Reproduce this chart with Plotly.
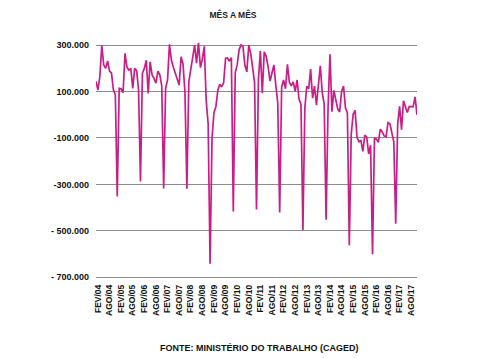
import plotly.graph_objects as go

# Monthly net job creation (thousands), Jan/2004 - Nov/2017
y2004 = [144, 107, 165, 299, 215, 200, 232, 188, 180, 108, 85, -352]
y2005 = [114, 112, 95, 265, 206, 192, 200, 114, 200, 190, 110, -287]
y2006 = [179, 200, 235, 92, 228, 172, 157, 136, 188, 172, 125, -318]
y2007 = [114, 150, 304, 235, 205, 179, 150, 128, 250, 218, 98, -319]
y2008 = [142, 195, 265, 300, 222, 310, 203, 240, 295, 61, -40, -642]
y2009 = [-101, 9, 35, 106, 132, 120, 138, 244, 245, 231, 246, -417]
y2010 = [181, 215, 280, 301, 295, 213, 185, 300, 265, 206, 140, -408]
y2011 = [152, 275, 93, 271, 252, 208, 145, 180, 215, 126, 50, -421]
y2012 = [119, 150, 112, 217, 140, 125, 142, 101, 150, 67, 46, -497]
y2013 = [29, 123, 112, 197, 72, 124, 41, 128, 211, 95, 47, -452]
y2014 = [30, 261, 13, 105, 59, 25, 12, 101, 124, 30, 8, -562]
y2015 = [-82, 2, 19, -98, -116, -111, -158, -87, -96, -169, -131, -601]
y2016 = [-100, -105, -119, -63, -73, -91, -95, -34, -39, -75, -117, -469]
y2017 = [-41, 36, -64, 60, 34, 10, 36, 35, 34, 77, 0]

years = [y2004, y2005, y2006, y2007, y2008, y2009, y2010, y2011,
         y2012, y2013, y2014, y2015, y2016, y2017]

x_tick_labels = ["FEV/04", "AGO/04", "FEV/05", "AGO/05", "FEV/06", "AGO/06",
                 "FEV/07", "AGO/07", "FEV/08", "AGO/08", "FEV/09", "AGO/09",
                 "FEV/10", "AGO/10", "FEV/11", "AGO/11", "FEV/12", "AGO/12",
                 "FEV/13", "AGO/13", "FEV/14", "AGO/14", "FEV/15", "AGO/15",
                 "FEV/16", "AGO/16", "FEV/17", "AGO/17"]
y_tick_values = [300000, 100000, -100000, -300000, -500000, -700000]
y_tick_labels = ["300.000", "100.000", "-100.000", "-300.000", "- 500.000", "- 700.000"]

values = [v * 1000 for yr in years for v in yr]
x = list(range(len(values)))
x_tick_pos = [1 + 6 * k for k in range(len(x_tick_labels))]

FONT = "Liberation Sans, Arial, sans-serif"

fig = go.Figure()
fig.add_trace(go.Scatter(x=x, y=values, mode="lines",
                         line=dict(color="#c81e86", width=1.7),
                         hoverinfo="skip", showlegend=False))

# page has an 8px body margin, so the figure is drawn at (8, 8)
fig.update_layout(
    width=472, height=350,
    margin=dict(l=88, r=63, t=33, b=78),
    paper_bgcolor="white", plot_bgcolor="white",
    title=dict(text="MÊS A MÊS", x=225 / 472, xref="container", xanchor="center",
               y=1 - 7 / 350, yref="container", yanchor="middle",
               font=dict(family=FONT, size=8.5, color="#222", weight="bold")),
    xaxis=dict(range=[0, len(values) - 1], tickmode="array",
               tickvals=x_tick_pos, ticktext=x_tick_labels, tickangle=-90,
               showgrid=False, zeroline=False, showline=False, ticks="",
               ticklabelstandoff=2,
               tickfont=dict(family=FONT, size=8.5, color="#111", weight="bold")),
    yaxis=dict(range=[-712000, 318000], tickmode="array",
               tickvals=y_tick_values, ticktext=y_tick_labels,
               showgrid=True, gridcolor="#8c8c8c", gridwidth=1.4,
               zeroline=False, showline=False, ticks="",
               ticklabelstandoff=6,
               tickfont=dict(family=FONT, size=9, color="#111", weight="bold")),
    annotations=[dict(text="FONTE: MINISTÉRIO DO TRABALHO (CAGED)",
                      xref="paper", yref="paper",
                      x=(252 - 88) / 321, y=-(340 - 272) / 239,
                      xanchor="center", yanchor="middle", showarrow=False,
                      font=dict(family=FONT, size=9, color="#111", weight="bold"))],
)

fig.write_html("out.html")
